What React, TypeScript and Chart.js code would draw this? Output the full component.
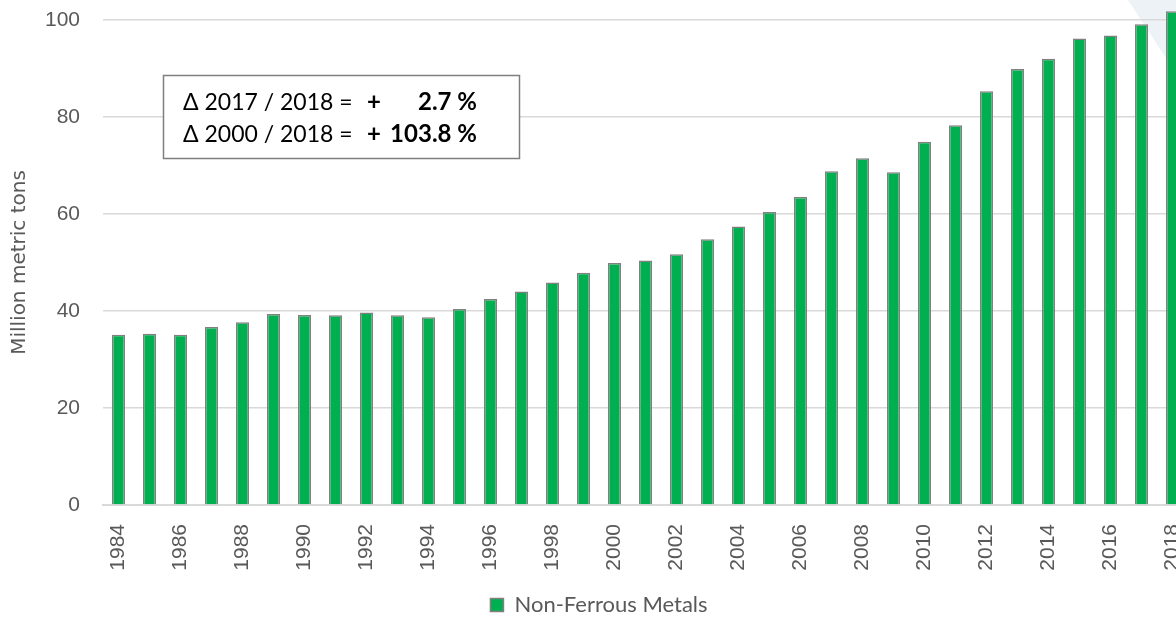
import React, { useEffect, useRef } from "react";
import { Chart, registerables } from "chart.js";

Chart.register(...registerables);

const years: string[] = [
  "1984", "1985", "1986", "1987", "1988", "1989", "1990", "1991", "1992", "1993",
  "1994", "1995", "1996", "1997", "1998", "1999", "2000", "2001", "2002", "2003",
  "2004", "2005", "2006", "2007", "2008", "2009", "2010", "2011", "2012", "2013",
  "2014", "2015", "2016", "2017", "2018",
];

const nonFerrous: number[] = [
  35.1, 35.3, 35.1, 36.7, 37.7, 39.4, 39.2, 39.1, 39.7, 39.1,
  38.7, 40.4, 42.5, 44.0, 45.9, 47.9, 49.9, 50.4, 51.7, 54.8,
  57.4, 60.4, 63.5, 68.8, 71.5, 68.6, 74.9, 78.3, 85.3, 89.9,
  92.0, 96.2, 96.8, 99.1, 101.8,
];

const seriesName = "Non-Ferrous Metals";
const yAxisTitle = "Million metric tons";
const yTicks = { min: 0, max: 100, step: 20 };

const noteLabels: string[] = ["\u0394 2017 / 2018 = ", "\u0394 2000 / 2018 = "];
const noteSigns: string[] = ["+", "+"];
const noteValues: string[] = ["2.7 %", "103.8 %"];

const GRAY_TEXT = "#595959";
const GRID = "#d9d9d9";
const TICK_FONT = "'Liberation Sans', Arial, sans-serif";
const TITLE_FONT = "'DejaVu Sans', sans-serif";
const NOTE_FONT = "Lato, 'Noto Sans', sans-serif";

const decorPlugin = {
  id: "decor",
  beforeDraw(chart: any) {
    const ctx = chart.ctx;
    ctx.save();
    ctx.fillStyle = "#edf2f6";
    ctx.beginPath();
    ctx.moveTo(1128, 0);
    ctx.lineTo(1196, 0);
    ctx.lineTo(1196, 104);
    ctx.closePath();
    ctx.fill();
    ctx.restore();
  },
};

const notePlugin = {
  id: "note",
  afterDraw(chart: any) {
    const ctx = chart.ctx;
    ctx.save();
    ctx.fillStyle = "#ffffff";
    ctx.fillRect(163, 75, 357, 84);
    ctx.strokeStyle = "#7f7f7f";
    ctx.lineWidth = 1.5;
    ctx.strokeRect(163.5, 75.5, 356, 83);
    ctx.fillStyle = "#000000";
    ctx.textBaseline = "alphabetic";
    const baselines = [110, 142];
    for (let i = 0; i < noteLabels.length; i++) {
      ctx.font = `23px ${NOTE_FONT}`;
      ctx.textAlign = "left";
      ctx.fillText(noteLabels[i], 183, baselines[i]);
      ctx.font = `bold 24px ${NOTE_FONT}`;
      ctx.fillText(noteSigns[i], 367, baselines[i]);
      ctx.textAlign = "right";
      ctx.fillText(noteValues[i], 477, baselines[i]);
    }
    ctx.restore();
  },
};

export default function App() {
  const canvasRef = useRef<HTMLCanvasElement | null>(null);

  useEffect(() => {
    if (!canvasRef.current) return;
    const chart = new Chart(canvasRef.current, {
      type: "bar",
      data: {
        labels: years,
        datasets: [
          {
            label: seriesName,
            data: nonFerrous,
            backgroundColor: "#00b050",
            borderColor: "#808080",
            borderWidth: 1.5,
            categoryPercentage: 1,
            barPercentage: 0.42,
            clip: false as any,
          },
        ],
      },
      options: {
        responsive: false,
        animation: false,
        layout: { padding: { top: 20, right: 8, bottom: 0, left: 10 } },
        plugins: {
          tooltip: { enabled: false },
          legend: {
            position: "bottom",
            labels: {
              boxWidth: 13,
              boxHeight: 13,
              color: GRAY_TEXT,
              font: { family: NOTE_FONT, size: 22 },
              padding: 8,
            },
          },
        },
        scales: {
          x: {
            grid: { display: false, drawTicks: false },
            border: { display: true, color: GRID, width: 2 },
            ticks: {
              autoSkip: false,
              maxRotation: 90,
              minRotation: 90,
              padding: 19,
              color: GRAY_TEXT,
              font: { family: TICK_FONT, size: 21 },
              callback: (_v: any, i: number) => (i % 2 === 0 ? years[i] : ""),
            },
            afterFit: (scale: any) => {
              scale.height = 81;
              scale.paddingLeft = 0;
              scale.paddingRight = 0;
            },
          },
          y: {
            min: yTicks.min,
            max: yTicks.max,
            grid: { color: GRID, lineWidth: 1.5, drawTicks: false },
            border: { display: false },
            ticks: {
              stepSize: yTicks.step,
              padding: 23,
              color: GRAY_TEXT,
              font: { family: TICK_FONT, size: 21 },
            },
            title: {
              display: true,
              text: yAxisTitle,
              color: GRAY_TEXT,
              font: { family: TITLE_FONT, size: 20 },
              padding: { top: -2, bottom: 0 },
            },
            afterFit: (scale: any) => {
              scale.width = 93;
              scale.paddingTop = 0;
              scale.paddingBottom = 0;
            },
          },
        },
      },
      plugins: [decorPlugin, notePlugin],
    });
    return () => chart.destroy();
  }, []);

  return (
    <div
      style={{
        position: "fixed",
        left: 0,
        top: 0,
        width: 1176,
        height: 618,
        overflow: "hidden",
        background: "#ffffff",
      }}
    >
      <canvas ref={canvasRef} width={1196} height={626} style={{ display: "block" }} />
    </div>
  );
}
